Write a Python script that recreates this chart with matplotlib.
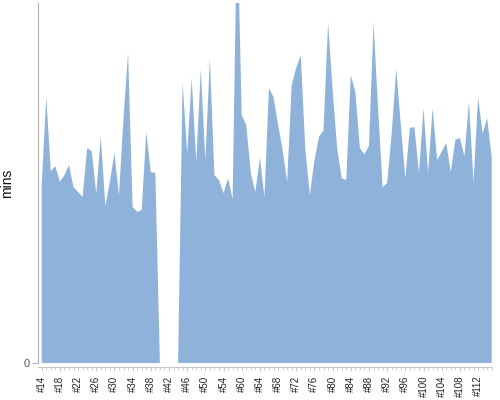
import numpy as np
import matplotlib
matplotlib.use('Agg')
from matplotlib import pyplot as plt

plt.rcParams['font.family'] = ['Liberation Sans', 'DejaVu Sans']

# build ids: #14..#56, then #59..#115
build_ids = list(range(14, 57)) + list(range(59, 116))
mins = [29.7, 44.3, 32.0, 32.8, 30.2, 31.3, 33.0, 29.3, 28.5, 27.7,
        35.8, 35.3, 28.3, 37.7, 26.2, 30.2, 35.0, 28.0, 40.8, 51.7,
        26.0, 25.2, 25.5, 38.5, 31.8, 31.7, 0, 0, np.nan, np.nan,
        0, 46.8, 35.0, 47.5, 33.5, 49.0, 33.8, 50.8, 31.3, 30.5,
        28.3, 30.8, 27.3, 75.0, 41.3, 39.7, 31.7, 28.5, 34.2, 27.7,
        45.8, 44.3, 39.7, 35.5, 30.2, 46.3, 49.2, 51.3, 35.5, 28.0,
        33.8, 37.7, 38.8, 56.7, 45.5, 35.8, 30.8, 30.5, 48.0, 45.2,
        35.8, 34.8, 36.2, 56.7, 42.5, 29.3, 30.0, 38.3, 49.0, 39.7,
        30.8, 39.2, 39.3, 31.7, 42.5, 31.7, 42.5, 33.8, 35.2, 36.7,
        31.8, 37.2, 37.5, 34.5, 43.5, 30.2, 44.3, 38.3, 40.8, 34.3]
tick_labels = ['#%d' % b for b in build_ids]

x = np.arange(len(mins))
y = np.array(mins, dtype=float)

fig = plt.figure(figsize=(5, 4), dpi=100)
ax = fig.add_axes([0.0766, 0.0925, 0.9068, 0.9])

ax.fill_between(x, 0, y, color='#8FB2DA', linewidth=0)
zero_part = np.where(y == 0, y, np.nan)
ax.plot(x, zero_part, color='#b5b5b5', lw=1)

ax.set_xlim(-0.75, len(mins) - 1)
ax.set_ylim(0, 60)

ax.spines['top'].set_visible(False)
ax.spines['right'].set_visible(False)
ax.spines['left'].set_color('#b0b0b0')
ax.spines['bottom'].set_color('#c8c8c8')
ax.spines['bottom'].set_position(('outward', 3))
ax.spines['bottom'].set_bounds(-0.75, len(mins) - 1)

ax.set_yticks([0])
ax.set_yticklabels(['0'])
ax.tick_params(axis='y', length=4, color='#b0b0b0', labelcolor='#555555',
               labelsize=8, pad=2)

ax.set_xticks(x[::4])
ax.set_xticklabels(tick_labels[::4], rotation=90)
ax.set_xticks(x, minor=True)
ax.tick_params(axis='x', which='major', length=3, color='#c8c8c8',
               labelsize=7, labelcolor='#222222', pad=3)
ax.tick_params(axis='x', which='minor', length=2, color='#c8c8c8')

ax.set_ylabel('mins', fontsize=10, color='#111111')
ax.yaxis.set_label_coords(-0.054, 0.5)

fig.savefig('out.png', dpi=100)
